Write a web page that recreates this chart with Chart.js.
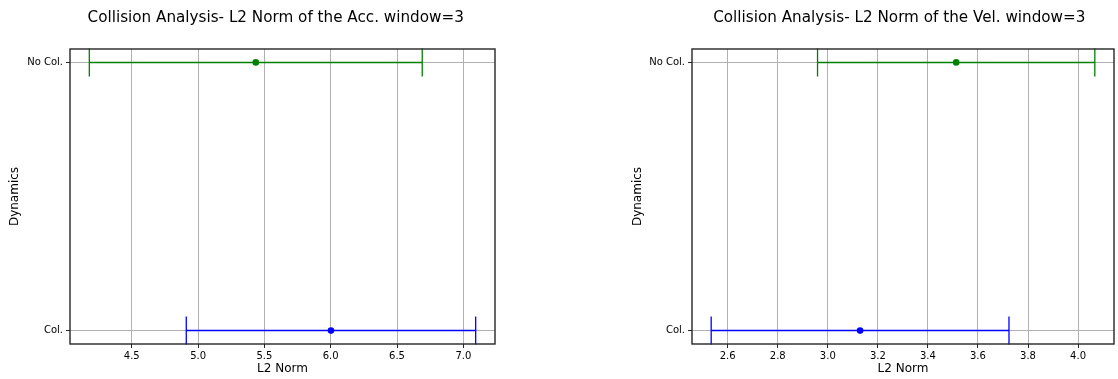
<!DOCTYPE html>
<html>
<head>
<meta charset="utf-8">
<script src="https://cdn.jsdelivr.net/npm/chart.js@4.4.1/dist/chart.umd.min.js"></script>
<style>
  html, body { margin: 0; padding: 0; background: #ffffff; }
  #wrap { position: relative; width: 1118px; height: 379px; overflow: hidden; }
  .panel { position: absolute; top: 0; width: 559px; height: 379px; }
  #accBox { left: 0; }
  #velBox { left: 559px; }
</style>
</head>
<body>
<div id="wrap">
  <div class="panel" id="accBox"><canvas id="accChart"></canvas></div>
  <div class="panel" id="velBox"><canvas id="velChart"></canvas></div>
</div>
<script>
// Categories on the vertical axis (index 0 at the bottom)
const categories = ['Col.', 'No Col.'];
const categoryColors = ['#0000ff', '#008000'];

// Acceleration: mean L2 norm and error half-width per category
const accMean = [6.002, 5.435];
const accErr = [1.091, 1.255];
const accTicks = [4.5, 5.0, 5.5, 6.0, 6.5, 7.0];

// Velocity: mean L2 norm and error half-width per category
const velMean = [3.129, 3.513];
const velErr = [0.595, 0.554];
const velTicks = [2.6, 2.8, 3.0, 3.2, 3.4, 3.6, 3.8, 4.0];

const FONT = "'DejaVu Sans', 'Liberation Sans', sans-serif";

// Horizontal error bars with end caps, drawn under the mean markers
const errorBarPlugin = {
  id: 'errorBars',
  beforeDatasetsDraw(chart, args, opts) {
    const { ctx } = chart;
    const xs = chart.scales.x, ys = chart.scales.y;
    const cap = 14;
    opts.means.forEach((m, i) => {
      const lo = xs.getPixelForValue(m - opts.errs[i]);
      const hi = xs.getPixelForValue(m + opts.errs[i]);
      const y = ys.getPixelForValue(i);
      ctx.save();
      ctx.strokeStyle = opts.colors[i];
      ctx.lineWidth = 1.5;
      ctx.beginPath();
      ctx.moveTo(lo, y); ctx.lineTo(hi, y);
      ctx.stroke();
      ctx.lineWidth = 1.3;
      ctx.beginPath();
      ctx.moveTo(lo, y - cap); ctx.lineTo(lo, y + cap);
      ctx.moveTo(hi, y - cap); ctx.lineTo(hi, y + cap);
      ctx.stroke();
      ctx.restore();
    });
  }
};

// Closed frame around the plotting area
const framePlugin = {
  id: 'frame',
  afterDatasetsDraw(chart) {
    const { ctx, chartArea: a } = chart;
    ctx.save();
    ctx.strokeStyle = '#262626';
    ctx.lineWidth = 1.4;
    ctx.strokeRect(a.left, a.top, a.right - a.left, a.bottom - a.top);
    ctx.restore();
  }
};

// Panel heading above the plotting area
const headingPlugin = {
  id: 'heading',
  afterDraw(chart, args, opts) {
    const { ctx } = chart;
    ctx.save();
    ctx.fillStyle = '#000000';
    ctx.font = `15.2px ${FONT}`;
    ctx.textAlign = 'center';
    ctx.textBaseline = 'alphabetic';
    ctx.fillText(opts.text, opts.x, opts.y);
    ctx.restore();
  }
};

function makeChart(canvasId, title, titleX, means, errs, ticks, yAxisWidth, rightPad, yTitlePad) {
  // axis limits with a 5% margin around the error-bar extents
  const lows = means.map((m, i) => m - errs[i]);
  const highs = means.map((m, i) => m + errs[i]);
  const lo = Math.min(...lows), hi = Math.max(...highs);
  const margin = (hi - lo) * 0.05;

  return new Chart(document.getElementById(canvasId), {
    type: 'scatter',
    data: {
      datasets: [{
        data: means.map((m, i) => ({ x: m, y: i })),
        pointBackgroundColor: categoryColors,
        pointBorderColor: categoryColors,
        pointRadius: 3.3,
        pointBorderWidth: 0,
        showLine: false
      }]
    },
    options: {
      responsive: true,
      maintainAspectRatio: false,
      animation: false,
      events: [],
      layout: { padding: { left: 0, right: rightPad, top: 49, bottom: 0 } },
      plugins: {
        legend: { display: false },
        tooltip: { enabled: false },
        title: { display: false },
        heading: { text: title, x: titleX, y: 22.2 },
        errorBars: { means: means, errs: errs, colors: categoryColors }
      },
      scales: {
        x: {
          type: 'linear',
          min: lo - margin,
          max: hi + margin,
          afterBuildTicks: (s) => { s.ticks = ticks.map(v => ({ value: v })); },
          afterFit: (s) => { s.height = 35; },
          ticks: {
            color: '#000000',
            font: { family: FONT, size: 10 },
            padding: 2,
            maxRotation: 0,
            callback: (v) => Number(v).toFixed(1)
          },
          grid: { color: '#b0b0b0', lineWidth: 1, tickLength: 4, tickColor: '#262626', tickWidth: 1 },
          border: { display: false },
          title: {
            display: true,
            text: 'L2 Norm',
            color: '#000000',
            font: { family: FONT, size: 12 },
            padding: { top: 0, bottom: 2.8 }
          }
        },
        y: {
          type: 'linear',
          min: -0.05,
          max: 1.05,
          afterBuildTicks: (s) => { s.ticks = categories.map((c, i) => ({ value: i })); },
          afterFit: (s) => { s.width = yAxisWidth; },
          ticks: {
            color: '#000000',
            font: { family: FONT, size: 10 },
            padding: 3,
            callback: (v) => categories[v]
          },
          grid: { color: '#b0b0b0', lineWidth: 1, tickLength: 4, tickColor: '#262626', tickWidth: 1 },
          border: { display: false },
          title: {
            display: true,
            text: 'Dynamics',
            color: '#000000',
            font: { family: FONT, size: 12 },
            padding: { top: yTitlePad, bottom: 0 }
          }
        }
      }
    },
    plugins: [errorBarPlugin, framePlugin, headingPlugin]
  });
}

makeChart('accChart', 'Collision Analysis- L2 Norm of the Acc. window=3', 275.7,
  accMean, accErr, accTicks, 70, 64, 7.3);
makeChart('velChart', 'Collision Analysis- L2 Norm of the Vel. window=3', 340.3,
  velMean, velErr, velTicks, 133, 1, 71.3);
</script>
</body>
</html>
